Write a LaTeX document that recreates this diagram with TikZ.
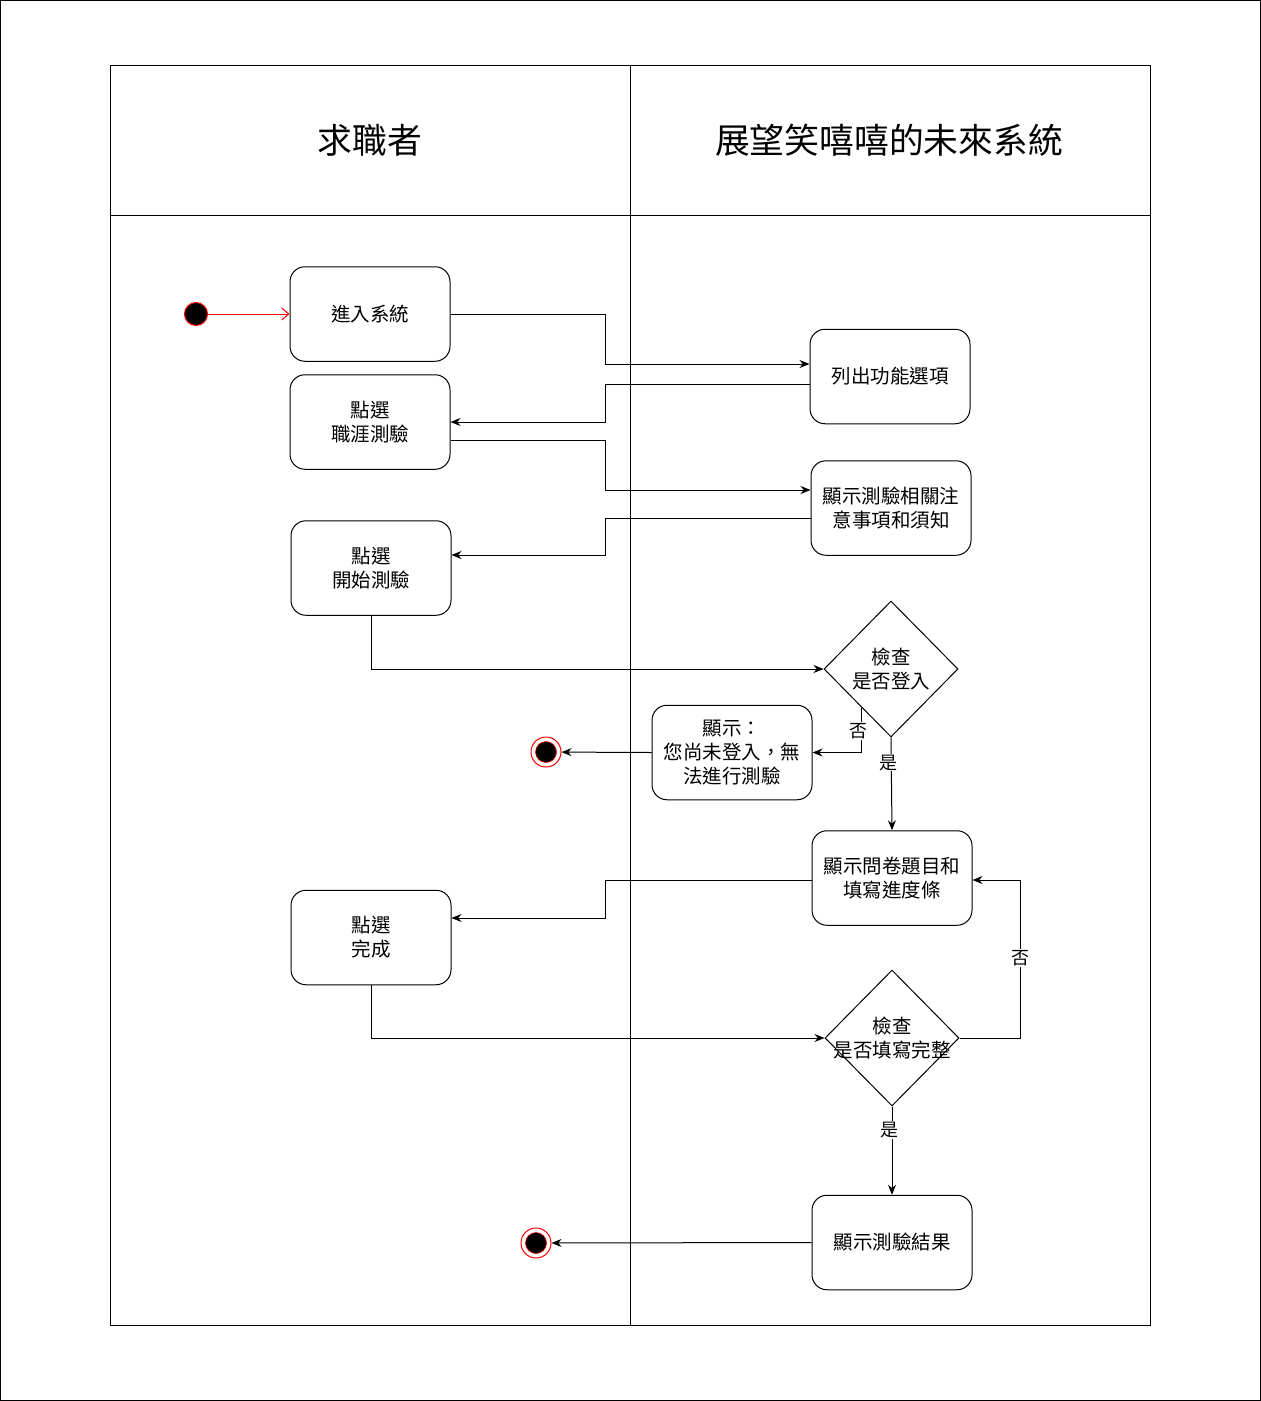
\documentclass[tikz,border=0pt]{standalone}
\usepackage{fontspec}
\setmainfont{Noto Sans CJK TC}
\usetikzlibrary{shapes.geometric,arrows.meta,calc}
\newcommand\boxfont{\fontsize{19.5}{24}\selectfont}
\newcommand\headfont{\fontsize{34.8}{40}\selectfont}
\newcommand\lblfont{\fontsize{18}{20}\selectfont}
\begin{document}
\begin{tikzpicture}[x=1pt,y=-1pt,line width=1pt,
  box/.style={draw, rounded corners=15, minimum width=160, minimum height=94.5, align=center, font=\boxfont, fill=white, inner sep=2},
  decision/.style={draw, shape=diamond, minimum width=134, minimum height=136, inner sep=0, fill=white},
  arr/.style={-{Stealth[length=10,width=8]}},
  lbl/.style={font=\lblfont, fill=white, inner sep=1},
  startst/.style={circle, draw=red, fill=black, minimum size=23, inner sep=0},
  endst/.style={circle, draw=red, fill=white, minimum size=30, inner sep=0, path picture={\fill[black] (path picture bounding box.center) circle (10.5);\draw[red, line width=0.6] (path picture bounding box.center) circle (10.5);}}
]
\useasboundingbox (0,0) rectangle (1261,1401);
\draw[line width=1.4] (0.7,0.7) rectangle (1260.3,1400.3);
% pool
\draw (110,65) rectangle (1150,1325);
\draw (630,65) -- (630,1325);
\draw (110,215) -- (1150,215);
\node[font=\headfont] (h1) at (370,140) {求職者};
\node[font=\headfont] (h2) at (889,140) {展望笑嘻嘻的未來系統};
% nodes
\node[startst] (S) at (196,314) {};
\node[box] (A) at (370,314) {進入系統};
\node[box] (B) at (370,422) {點選\\職涯測驗};
\node[box] (C) at (371,568) {點選\\開始測驗};
\node[box] (D) at (890,376.5) {列出功能選項};
\node[box] (E) at (891,508) {顯示測驗相關注\\意事項和須知};
\node[decision, label={[font=\boxfont, align=center]center:檢查\\是否登入}] (F) at (891,669) {};
\node[box] (G) at (732,752.5) {顯示：\\您尚未登入，無\\法進行測驗};
\node[endst] (E1) at (546,752) {};
\node[box] (H) at (892,878) {顯示問卷題目和\\填寫進度條};
\node[box] (I) at (371,937.5) {點選\\完成};
\node[decision, label={[font=\boxfont, align=center]center:檢查\\是否填寫完整}] (J) at (892,1038) {};
\node[box] (K) at (892,1242.5) {顯示測驗結果};
\node[endst] (E2) at (536,1243) {};
% connectors
\draw[red, -{Straight Barb[length=7,width=12]}] (S) -- (A.west);
\draw[arr] (A.east) -- ++(155,0) |- (D.west |- 0,364);
\draw[arr] (D.west |- 0,384) -- (605,384) |- (B.east);
\draw[arr] (B.east |- 0,440) -- (605,440) |- (E.west |- 0,490);
\draw[arr] (E.west |- 0,518) -- (605,518) |- (C.east |- 0,555);
\draw[arr] (C.south) |- (F.west);
\coordinate (Fno) at ($(F.south)!0.43!(F.west)$);
\draw[arr] (Fno) |- (G.east) node[lbl, pos=0.26, xshift=-3] (n1) {否};
\draw[arr] (F.south) -- (H.north) node[lbl, pos=0.27, xshift=-3] (y1) {是};
\draw[arr] (G.west) -- (E1);
\draw[arr] (H.west |- 0,880) -- (605,880) |- (I.east |- 0,918);
\draw[arr] (I.south) |- (J.west);
\draw[arr] (J.east) -- ++(61,0) |- (H.east |- 0,880) node[lbl, pos=0.253] (n2) {否};
\draw[arr] (J.south) -- (K.north) node[lbl, pos=0.27, xshift=-3] (y2) {是};
\draw[arr] (K.west) -- (E2);
\end{tikzpicture}
\end{document}
